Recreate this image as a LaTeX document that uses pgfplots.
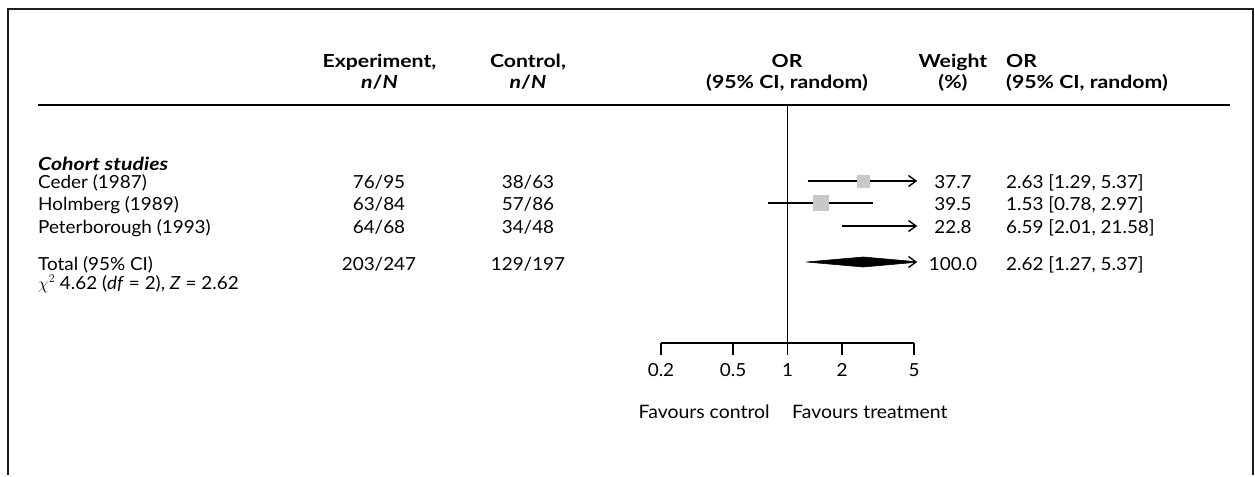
\documentclass[border=0pt]{standalone}
\usepackage{pgfplots}
\pgfplotsset{compat=1.18}
\usepackage{fontspec}
\setmainfont{Lato}[FakeStretch=1.05]
% wider bold face for the headings
\newfontfamily\hdr{Lato}[FakeStretch=1.18]

\definecolor{sqgray}{RGB}{200,200,200}
\definecolor{framecol}{RGB}{30,30,30}

% open arrow head used where a confidence interval runs past the scale
\pgfdeclareplotmark{rarrow}{%
  \pgfpathmoveto{\pgfqpoint{-7.5bp}{5.5bp}}%
  \pgfpathlineto{\pgfqpoint{0bp}{0bp}}%
  \pgfpathlineto{\pgfqpoint{-7.5bp}{-5.5bp}}%
  \pgfusepathqstroke}

\pgfplotsset{ci/.style={black, line width=1.4bp, no marks}}

\begin{document}
\fontsize{18bp}{22bp}\selectfont
\begin{tikzpicture}

% ---- table text, rules and frame ----
\begin{axis}[hide axis, scale only axis, width=1255bp, height=475bp,
  xmin=0, xmax=1255, ymin=0, ymax=475, y dir=reverse, clip=false]
  \path (axis cs:0,0) rectangle (axis cs:1255,475);
  \draw[framecol, line width=2.5bp, line join=miter]
    (axis cs:8,475) -- (axis cs:8,9) -- (axis cs:1253,9) -- (axis cs:1253,475);
  \draw[black, line width=2bp] (axis cs:38,105.5) -- (axis cs:1230,105.5);

  % column headers
  \node[anchor=base] at (axis cs:379.5,68) {\hdr\bfseries Experiment,};
  \node[anchor=base] at (axis cs:379.5,89) {\hdr\bfseries\itshape n\upshape/\itshape N};
  \node[anchor=base] at (axis cs:528,68) {\hdr\bfseries Control,};
  \node[anchor=base] at (axis cs:528,89) {\hdr\bfseries\itshape n\upshape/\itshape N};
  \node[anchor=base] at (axis cs:787,68) {\hdr\bfseries OR};
  \node[anchor=base] at (axis cs:787,89) {\hdr\bfseries (95\% CI, random)};
  \node[anchor=base] at (axis cs:953,68) {\hdr\bfseries Weight};
  \node[anchor=base] at (axis cs:953,89) {\hdr\bfseries (\%)};
  \node[anchor=base west, inner xsep=0pt] at (axis cs:1006,68) {\hdr\bfseries OR};
  \node[anchor=base west, inner xsep=0pt] at (axis cs:1006,89) {\hdr\bfseries (95\% CI, random)};

  % study rows
  \node[anchor=base west, inner xsep=0pt] at (axis cs:38,170) {\hdr\bfseries\itshape Cohort studies};
  \node[anchor=base west, inner xsep=0pt] at (axis cs:38,188) {Ceder (1987)};
  \node[anchor=base west, inner xsep=0pt] at (axis cs:38,210) {Holmberg (1989)};
  \node[anchor=base west, inner xsep=0pt] at (axis cs:38,233) {Peterborough (1993)};
  \node[anchor=base west, inner xsep=0pt] at (axis cs:38,270) {Total (95\% CI)};
  \node[anchor=base west, inner xsep=0pt] at (axis cs:38,289)
    {$\chi^{2}$ 4.62 (\textit{df} = 2), \textit{Z} = 2.62};

  \node[anchor=base] at (axis cs:379,188) {76/95};
  \node[anchor=base] at (axis cs:379,210) {63/84};
  \node[anchor=base] at (axis cs:379,233) {64/68};
  \node[anchor=base] at (axis cs:379,270) {203/247};
  \node[anchor=base] at (axis cs:528,188) {38/63};
  \node[anchor=base] at (axis cs:528,210) {57/86};
  \node[anchor=base] at (axis cs:528,233) {34/48};
  \node[anchor=base] at (axis cs:528,270) {129/197};

  \node[anchor=base] at (axis cs:953,188) {37.7};
  \node[anchor=base] at (axis cs:953,210) {39.5};
  \node[anchor=base] at (axis cs:953,233) {22.8};
  \node[anchor=base] at (axis cs:953,270) {100.0};
  \node[anchor=base west, inner xsep=0pt] at (axis cs:1006,188) {2.63 [1.29, 5.37]};
  \node[anchor=base west, inner xsep=0pt] at (axis cs:1006,210) {1.53 [0.78, 2.97]};
  \node[anchor=base west, inner xsep=0pt] at (axis cs:1006,233) {6.59 [2.01, 21.58]};
  \node[anchor=base west, inner xsep=0pt] at (axis cs:1006,270) {2.62 [1.27, 5.37]};
\end{axis}

% ---- estimates and intervals, clipped at the end of the scale ----
\begin{axis}[hide axis, scale only axis,
    at={(640bp,45bp)}, anchor=south west,
    width=276bp, height=330bp,
    xmode=log, xmin=0.1531, xmax=5.128,
    ymin=100, ymax=430, y dir=reverse,
    clip=true, clip marker paths=true]
  \addplot[ci] coordinates {(1.29,181) (5.37,181)};
  \addplot[ci] coordinates {(0.78,203) (2.97,203)};
  \addplot[ci] coordinates {(2.01,226) (21.58,226)};
  % squares sized by weight
  \addplot[only marks, mark=square*, mark size=6bp, color=sqgray, fill=sqgray]
    coordinates {(2.63,181)};
  \addplot[only marks, mark=square*, mark size=7.5bp, color=sqgray, fill=sqgray]
    coordinates {(1.53,203)};
  \addplot[only marks, mark=square*, mark size=5bp, color=sqgray, fill=sqgray]
    coordinates {(6.59,226)};
  % pooled estimate
  \addplot[fill=black, draw=black, line width=0.6bp]
    coordinates {(1.27,262) (2.62,257) (5.37,262) (2.62,267)} -- cycle;
\end{axis}

% ---- line of no effect, scale and arrows ----
\begin{axis}[hide axis, scale only axis,
    at={(640bp,45bp)}, anchor=south west,
    width=276bp, height=330bp,
    xmode=log, xmin=0.1531, xmax=5.128,
    ymin=100, ymax=430, y dir=reverse,
    clip=false]
  \addplot[black, line width=1.5bp] coordinates {(1,105) (1,343)};
  \addplot[black, line width=1.5bp] coordinates {(0.2,343) (5,343)};
  \addplot[black, line width=1.5bp] coordinates {(0.2,343) (0.2,355)};
  \addplot[black, line width=1.5bp] coordinates {(0.5,343) (0.5,355)};
  \addplot[black, line width=1.5bp] coordinates {(1,343) (1,355)};
  \addplot[black, line width=1.5bp] coordinates {(2,343) (2,355)};
  \addplot[black, line width=1.5bp] coordinates {(5,343) (5,355)};
  \node[anchor=base] at (axis cs:0.2,376) {0.2};
  \node[anchor=base] at (axis cs:0.5,376) {0.5};
  \node[anchor=base] at (axis cs:1,376) {1};
  \node[anchor=base] at (axis cs:2,376) {2};
  \node[anchor=base] at (axis cs:5,376) {5};
  \addplot[only marks, mark=rarrow, mark options={black, line width=1.4bp}]
    coordinates {(5.128,181) (5.128,226) (5.128,262)};
  \node[anchor=base east, inner xsep=0pt, font=\fontsize{18.5bp}{22bp}\selectfont]
    at (axis cs:0.80,418) {Favours control};
  \node[anchor=base west, inner xsep=0pt, font=\fontsize{18.5bp}{22bp}\selectfont]
    at (axis cs:1.059,418) {Favours treatment};
\end{axis}
\end{tikzpicture}
\end{document}
